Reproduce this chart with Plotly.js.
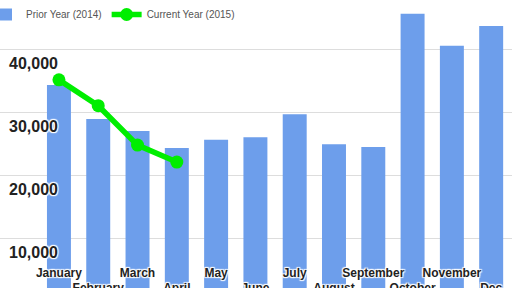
<!DOCTYPE html>
<html><head><meta charset="utf-8">
<script src="https://cdn.plot.ly/plotly-3.0.1.min.js"></script>
<style>html,body{margin:0;padding:0;background:#fff}#c{width:512px;height:288px}</style>
</head><body><div id="c"></div>
<script>
const months = ["January","February","March","April","May","June","July","August","September","October","November","December"];
const tickLabels = ["January","<br>February","March","<br>April","May","<br>June","July","<br>August","September","<br>October","November","<br>Dec"];
const prior2014 = [34300, 28900, 27000, 24300, 25600, 26000, 29650, 24900, 24450, 45600, 40500, 43650];
const current2015 = [35100, 31000, 24750, 22050];
const yTicks = [10000, 20000, 30000, 40000];
const yTickLabels = ["10,000","20,000","30,000","40,000"];

const halo = "1px 1px 1px #fff, -1px -1px 1px #fff, 1px -1px 1px #fff, -1px 1px 1px #fff, 0 0 2px #fff";

Plotly.newPlot('c', [
  {type:'bar', name:'Prior Year (2014)', x: months, y: prior2014,
   marker:{color:'#6d9eeb'}, hoverinfo:'skip'},
  {type:'scatter', mode:'lines+markers', name:'Current Year (2015)',
   x: months.slice(0, current2015.length), y: current2015,
   line:{color:'#00ee00', width:5.5}, marker:{color:'#00ee00', size:13}, hoverinfo:'skip'}
], {
  width:512, height:288,
  margin:{l:0, r:0, t:0, b:0, autoexpand:false},
  paper_bgcolor:'#fff', plot_bgcolor:'#fff',
  bargap:0.39,
  showlegend:true,
  legend:{orientation:'h', x:-0.0273, y:1, xanchor:'left', yanchor:'top', bgcolor:'rgba(0,0,0,0)',
          font:{family:'Liberation Sans, Arial, sans-serif', size:10, color:'#555'}, itemwidth:30},
  xaxis:{type:'category', range:[-1.5, 11.53], tickvals: months, ticktext: tickLabels,
         anchor:'free', position:0.085, showgrid:false, showline:false, zeroline:false, ticks:'',
         tickangle:0, automargin:false,
         tickfont:{family:'Liberation Sans, Arial, sans-serif', size:12, color:'#222', weight:'bold', shadow: halo}},
  yaxis:{range:[2063, 47778], tickvals: yTicks, ticktext: yTickLabels, showgrid:true, gridcolor:'#dddddd', gridwidth:1,
         zeroline:false, showline:false, ticks:'', ticklabelposition:'inside', ticklabelshift:14, ticklabelstandoff:6,
         automargin:false,
         tickfont:{family:'Liberation Sans, Arial, sans-serif', size:16, color:'#222', weight:'bold', shadow: halo}}
}, {staticPlot:true, displayModeBar:false});
</script></body></html>
